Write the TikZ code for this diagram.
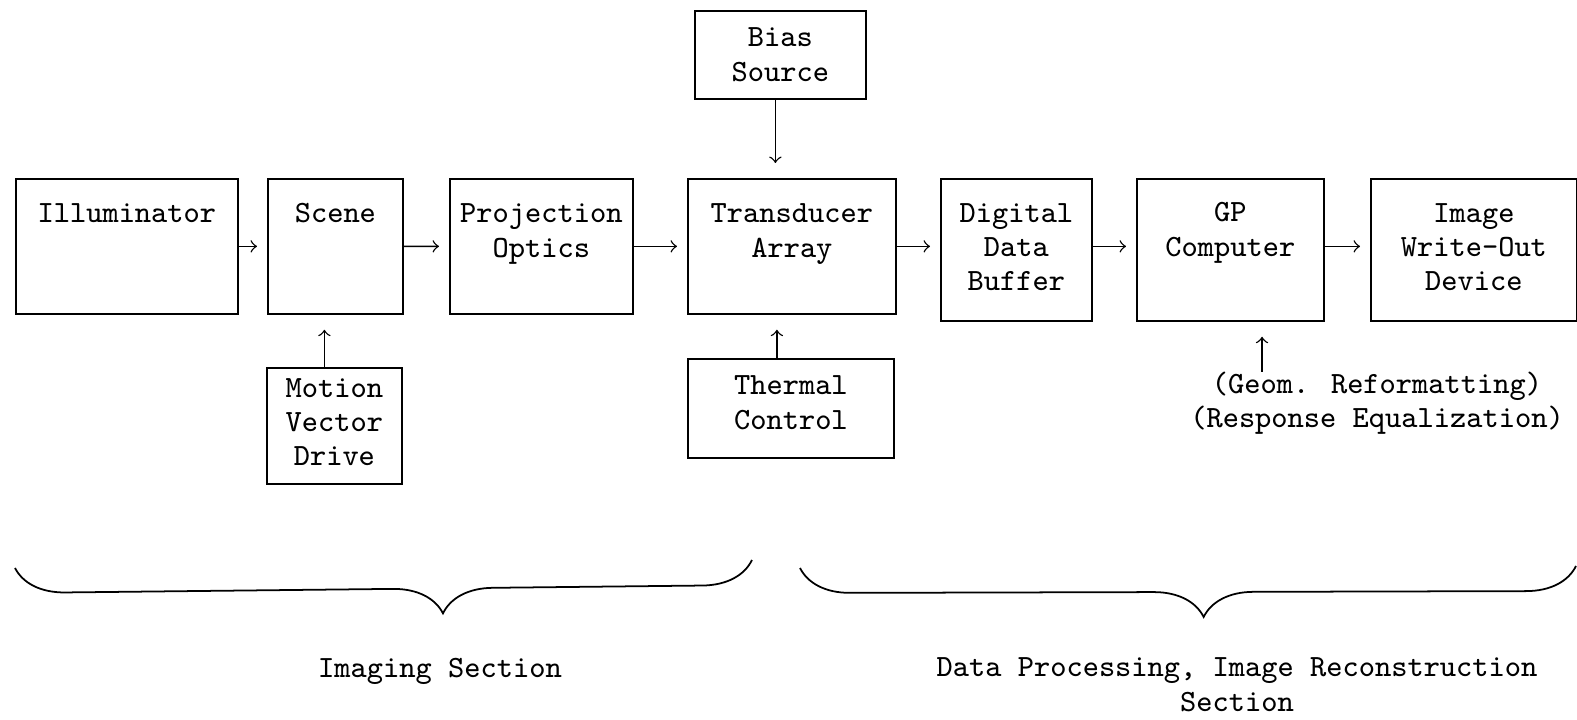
\documentclass[tikz,border=0pt]{standalone}
\usepackage{fontspec}
\usetikzlibrary{decorations.pathreplacing}

\begin{document}
\begin{tikzpicture}
    \tikzstyle{blk} = [shape=rectangle, draw, line width=0.5pt, inner sep=0pt, align=center,
        anchor=north west, font=\ttfamily\fontsize{8.8}{9.7}\selectfont]
    \tikzstyle{txt} = [inner sep=0pt, align=center, font=\ttfamily\fontsize{8.8}{9.7}\selectfont]
    \tikzstyle{hbrace} = [decorate, decoration={brace, mirror, amplitude=5mm}, line width=0.5pt]

    \useasboundingbox (0, 0) rectangle (15.77, -7.20);

    % main chain
    \node[blk, minimum width=2.22cm, text height=0.44cm,  text depth=0.91cm]  (ill)    at (0.15, -1.78) {Illuminator};
    \node[blk, minimum width=1.35cm, text height=0.44cm,  text depth=0.91cm]  (scene)  at (2.67, -1.78) {Scene};
    \node[blk, minimum width=1.83cm, text height=0.782cm, text depth=0.568cm] (proj)   at (4.49, -1.78) {Projection\\Optics};
    \node[blk, minimum width=2.08cm, text height=0.782cm, text depth=0.568cm] (trans)  at (6.87, -1.78) {Transducer\\Array};
    \node[blk, minimum width=1.51cm, text height=1.114cm, text depth=0.306cm] (buf)    at (9.40, -1.78) {Digital\\Data\\Buffer};
    \node[blk, minimum width=1.87cm, text height=0.772cm, text depth=0.648cm] (gp)     at (11.36, -1.78) {GP\\Computer};
    \node[blk, minimum width=2.06cm, text height=1.114cm, text depth=0.306cm] (img)    at (13.70, -1.78) {Image\\Write-Out\\Device};

    % side inputs
    \node[blk, minimum width=1.71cm, text height=0.702cm, text depth=0.178cm] (bias)   at (6.94, -0.10) {Bias\\Source};
    \node[blk, minimum width=2.06cm, text height=0.702cm, text depth=0.288cm] (therm)  at (6.87, -3.58) {Thermal\\Control};
    \node[blk, minimum width=1.35cm, text height=0.974cm, text depth=0.186cm] (motion) at (2.66, -3.67) {Motion\\Vector\\Drive};
    \node[txt, anchor=base] (geom) at (13.77, -4.28) {(Geom. Reformatting)\\(Response Equalization)};

    \draw[-to, shorten >=1mm] (ill)   -- (scene);
    \draw[-to, shorten >=1mm] (scene) -- (proj);
    \draw[-to, shorten >=1mm] (proj)  -- (trans);
    \draw[-to, shorten >=1mm] (trans.east) -- (trans.east -| buf.west);
    \draw[-to, shorten >=1mm] (buf.east |- trans.east) -- (gp.west |- trans.east);
    \draw[-to, shorten >=1mm] (gp.east |- trans.east)  -- (img.west |- trans.east);

    \draw[-to, shorten >=1.5mm] ([xshift=-0.5mm]bias.south)   -- ([xshift=-0.5mm]bias.south |- trans.north);
    \draw[-to, shorten >=1.5mm] ([xshift=-1.4mm]therm.north)  -- ([xshift=-1.4mm]therm.north |- trans.south);
    \draw[-to, shorten >=1.5mm] ([xshift=-1.0mm]motion.north) -- ([xshift=-1.0mm]motion.north |- scene.south);
    \draw[-to, shorten >=1.5mm] ([xshift=-11.5mm]geom.north)  -- ([xshift=-11.5mm]geom.north |- gp.south);

    % sections
    \coordinate (lb1) at (0.15, -5.68);
    \coordinate (lb2) at (7.52, -5.60);
    \coordinate (rb1) at (8.00, -5.68);
    \coordinate (rb2) at (15.76, -5.66);
    \draw[hbrace, decoration={aspect=0.58}] (lb1) -- (lb2);
    \draw[hbrace, decoration={aspect=0.52}] (rb1) -- (rb2);

    \node[txt, anchor=base] (imglbl)  at (4.40, -6.77) {Imaging Section};
    \node[txt, anchor=base] (datalbl) at (12.37, -7.11) {Data Processing, Image Reconstruction\\Section};

\end{tikzpicture}
\end{document}
